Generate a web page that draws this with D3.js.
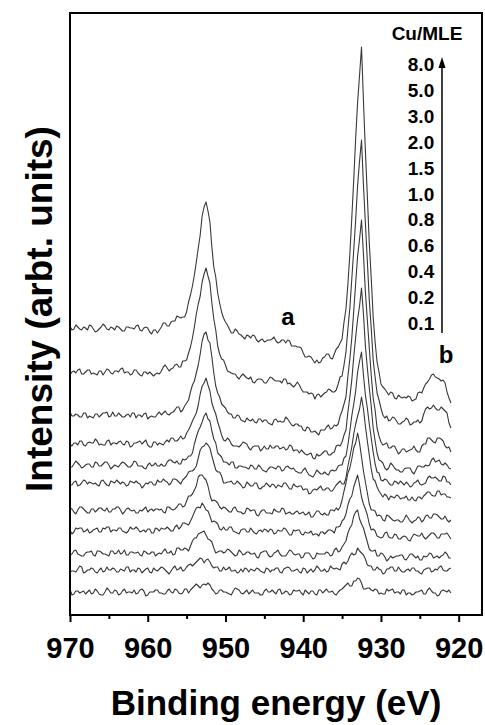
<!DOCTYPE html>
<html>
<head>
<meta charset="utf-8">
<script src="https://cdn.jsdelivr.net/npm/d3@7"></script>
<style>
  html, body { margin: 0; padding: 0; background: #fff; }
  svg { display: block; }
  text { font-family: "Liberation Sans", Arial, Helvetica, sans-serif; font-weight: bold; fill: #000; }
</style>
</head>
<body>
<svg id="chart" width="485" height="725"></svg>
<script>
// Cu 2p XPS spectra for increasing Cu coverage (monolayer equivalents), stacked bottom (0.1) to top (8.0).
const coverages = ["8.0", "5.0", "3.0", "2.0", "1.5", "1.0", "0.8", "0.6", "0.4", "0.2", "0.1"];
// Vertical stacking offset of each spectrum (arb. units)
const offsets = [287, 243, 200, 172, 150, 132, 105, 85, 62, 45, 23];
// Spectra are recorded from 970 eV downwards in 0.25 eV steps
const eStart = 970, eStep = 0.25;

const c80 = [2,-2,-1,3,1,-1,-2,1,0,-2,3,2,-1,-4,-3,-1,1,4,2,-1,
  -2,1,0,-2,2,1,-1,-3,-3,1,1,0,0,-1,2,3,-2,-3,0,1,
  0,-4,-6,-2,-2,-5,-2,1,5,5,2,2,6,7,7,12,11,10,11,11,
  16,26,33,42,53,66,80,93,112,121,126,117,106,81,61,51,35,25,16,10,
  6,3,-1,-5,-5,-1,-3,-6,-7,-9,-11,-7,-8,-10,-7,-8,-12,-14,-12,-11,
  -14,-13,-12,-12,-11,-9,-13,-15,-14,-12,-12,-15,-12,-13,-18,-18,-18,-19,-19,-20,
  -25,-29,-29,-28,-29,-32,-35,-32,-35,-34,-30,-29,-26,-26,-30,-31,-26,-21,-19,-15,
  -11,6,19,44,74,110,148,190,226,253,281,227,177,132,85,50,11,-14,-34,-44,
  -56,-59,-61,-64,-67,-64,-65,-70,-71,-67,-69,-70,-69,-70,-68,-69,-73,-72,-71,-65,
  -64,-65,-60,-56,-54,-51,-47,-46,-49,-50,-51,-53,-52,-55,-64,-70,-75];
const c50 = [-3,0,1,-1,2,3,-2,-2,0,2,2,-2,-1,-2,-3,1,1,-3,0,3,
  2,-1,-2,1,1,0,3,4,-1,0,0,-3,-2,2,2,-1,-3,-4,0,0,
  -2,0,-2,-4,-2,-1,-2,1,5,7,4,1,3,4,7,8,5,5,11,11,
  12,19,25,34,45,58,68,76,90,98,104,96,89,69,53,42,26,18,13,12,
  7,1,0,-1,-2,-2,-5,-7,-4,-2,-4,-6,-7,-5,-10,-11,-8,-7,-7,-8,
  -11,-11,-8,-5,-6,-8,-9,-9,-9,-11,-7,-7,-12,-11,-13,-15,-13,-10,-13,-17,
  -20,-20,-20,-22,-21,-22,-27,-23,-22,-25,-23,-21,-20,-17,-18,-20,-20,-18,-12,-5,
  -4,7,20,43,64,93,122,152,187,211,232,187,149,111,72,44,12,-5,-21,-28,
  -36,-43,-46,-44,-49,-48,-45,-46,-49,-52,-52,-50,-49,-46,-48,-53,-52,-50,-50,-48,
  -51,-49,-42,-37,-35,-37,-36,-33,-36,-38,-38,-35,-37,-39,-41,-51,-56];
const c30 = [3,-1,-1,1,0,-2,-2,2,2,-3,-1,-2,-3,1,1,-2,0,2,2,3,
  -2,-1,3,-1,-1,2,0,-2,-2,0,1,-2,2,2,-3,0,0,-2,1,2,
  -4,-2,-1,-2,-2,1,3,0,2,4,1,0,2,3,5,8,8,3,5,9,
  12,15,23,30,34,42,50,61,74,81,83,75,72,58,42,29,22,18,11,9,
  7,3,1,1,-3,-3,0,-1,-5,-6,-7,-3,-5,-6,-4,-7,-8,-4,-4,-7,
  -5,-5,-8,-9,-10,-5,-4,-7,-6,-7,-7,-2,-4,-7,-10,-11,-9,-9,-11,-11,
  -15,-16,-12,-13,-17,-17,-16,-18,-20,-15,-15,-15,-12,-10,-14,-13,-10,-11,-9,-1,
  4,11,18,39,56,77,104,132,159,176,195,161,123,95,67,40,17,5,-13,-21,
  -27,-30,-29,-28,-33,-33,-31,-31,-35,-39,-37,-34,-34,-37,-36,-35,-34,-31,-35,-37,
  -37,-31,-29,-29,-23,-23,-25,-27,-28,-23,-23,-24,-26,-31,-33,-32,-37];
const c20 = [-1,-3,0,0,-2,2,2,-2,-3,0,1,0,0,4,2,-2,-1,-2,-2,2,
  3,-2,0,0,-1,1,2,-1,-2,2,1,-4,-3,0,0,1,2,-1,1,3,
  -2,-4,-4,1,1,-2,0,-1,-2,1,3,1,5,5,2,2,4,7,4,5,
  10,13,17,22,26,30,38,49,57,60,65,58,52,40,34,29,21,15,8,3,
  2,5,3,-1,-3,-3,-3,-4,-2,1,0,-1,-5,-7,-4,-3,-3,-3,-8,-6,
  -3,-6,-6,-2,-5,-5,-3,-3,-6,-5,-4,-7,-6,-2,-3,-8,-7,-7,-10,-7,
  -9,-11,-12,-11,-10,-15,-16,-11,-13,-12,-10,-8,-8,-12,-12,-10,-9,-3,-2,-3,
  1,8,13,31,46,63,86,106,124,137,155,129,97,75,55,37,15,2,-10,-17,
  -18,-20,-25,-27,-25,-20,-22,-25,-27,-27,-29,-29,-26,-25,-25,-25,-29,-31,-27,-23,
  -23,-24,-24,-22,-23,-22,-17,-15,-19,-18,-17,-21,-22,-20,-22,-25,-26];
const c15 = [-2,-2,1,4,2,0,-3,-2,0,1,1,-2,-2,3,2,-1,-1,1,3,3,
  0,-4,-2,0,-1,-2,1,3,2,0,-2,-2,0,4,3,-1,-1,-1,-3,-4,
  0,2,-1,0,2,-1,-1,1,-1,-1,3,5,5,3,2,4,1,1,6,5,
  6,9,9,12,21,28,34,38,43,49,52,46,44,34,26,22,12,10,8,3,
  3,2,0,3,3,-3,-3,-1,-1,-2,-2,-3,-4,0,-1,-4,-4,0,-2,-5,
  -6,-7,-4,-2,-2,-3,-4,-1,-2,-6,-5,-2,-1,-3,-4,-3,-6,-7,-8,-8,
  -5,-3,-7,-10,-11,-12,-9,-5,-7,-9,-9,-7,-9,-10,-6,-5,-6,-5,-1,0,
  0,7,9,20,34,49,61,74,93,104,113,90,70,57,41,27,13,1,-7,-8,
  -15,-16,-14,-15,-18,-20,-20,-16,-17,-19,-16,-18,-20,-17,-19,-22,-21,-18,-17,-15,
  -19,-20,-19,-18,-13,-11,-13,-13,-12,-14,-16,-16,-11,-12,-17,-17,-20];
const c10 = [-2,-2,1,2,-3,-2,0,3,2,-1,1,0,-1,0,-2,-3,2,3,0,-2,
  -3,2,1,0,3,1,-1,1,0,-3,-2,2,1,0,2,0,-1,-5,-3,0,
  -1,1,1,-2,-2,3,1,1,4,2,1,-2,0,4,4,3,1,-1,3,5,
  7,11,12,12,14,17,25,33,36,37,40,38,35,27,20,13,11,11,7,0,
  0,1,1,2,-1,-1,2,0,-2,-5,-4,1,-1,-3,-3,0,0,-5,-6,-4,
  -3,0,-2,-4,-1,-2,-5,-2,-3,-4,0,0,-3,-6,-6,-1,-3,-4,-3,-3,
  -7,-6,-6,-11,-10,-7,-6,-7,-5,-3,-7,-7,-5,-5,-8,-8,-5,-2,0,2,
  -1,-1,5,17,26,36,49,59,67,74,86,74,57,42,28,14,4,2,-4,-8,
  -11,-14,-11,-13,-17,-13,-14,-15,-12,-13,-16,-15,-15,-13,-17,-17,-14,-17,-18,-14,
  -14,-16,-13,-11,-9,-9,-12,-13,-13,-8,-8,-12,-11,-11,-14,-14,-15];
const c08 = [2,1,-2,-4,0,3,3,1,-1,-3,-3,1,1,-2,0,2,2,0,-1,2,
  -2,-2,1,1,3,3,0,-4,-2,1,2,0,-1,0,-3,-3,0,-1,1,3,
  -2,0,1,-1,1,1,0,1,-2,-3,3,3,1,0,1,3,6,6,3,4,
  9,14,14,16,20,24,33,35,35,32,30,24,15,9,10,9,7,3,1,3,
  2,0,-2,-2,2,3,-1,-2,-2,-4,-3,2,1,-1,0,0,-5,-6,-2,0,
  0,-3,-3,-3,-4,1,-1,-2,-2,2,1,-4,-3,-2,-4,-4,-2,-1,-4,-3,
  -2,-5,-4,-2,-7,-7,-4,-1,-1,-4,-5,-3,-5,-5,0,0,-1,2,0,3,
  10,19,27,37,42,51,62,67,77,67,53,39,28,17,6,0,0,-1,-6,-5,
  -6,-10,-11,-5,-6,-8,-10,-11,-10,-10,-12,-12,-9,-5,-8,-11,-13,-11,-10,-7,
  -8,-12,-10,-6,-5,-8,-8,-4,-4,-5,-7,-9,-9,-6,-10,-12,-10];
const c06 = [0,-4,-2,2,1,2,2,-2,-1,1,-3,-2,0,1,2,-2,-2,2,1,3,
  3,-2,0,0,-1,2,2,-1,-2,-3,-1,3,1,1,3,1,-2,-1,0,-2,
  1,1,-3,-3,2,1,-1,2,1,1,3,1,-1,-1,3,5,1,3,7,7,
  6,5,9,13,18,22,23,22,27,24,20,19,14,8,9,8,6,1,0,3,
  0,0,3,3,-1,-2,-3,-4,0,1,1,-2,-2,2,-1,-3,-4,-1,0,-2,
  1,0,-2,1,0,-4,-3,0,-1,-1,2,1,-2,-5,-5,0,-1,0,0,-4,
  -5,-2,-3,-3,-1,-5,-4,-4,-6,-2,-2,-4,-2,0,0,-1,-3,3,3,4,
  9,11,16,25,31,34,43,49,55,45,33,26,21,15,6,0,1,-1,-6,-7,
  -8,-7,-3,-2,-7,-8,-8,-4,-5,-9,-9,-7,-6,-7,-10,-11,-7,-4,-5,-6,
  -6,-3,-7,-9,-7,-5,-3,-3,-5,-8,-8,-4,-4,-4,-3,-6,-9];
const c04 = [-2,-1,2,3,-1,-2,-3,-3,0,1,1,2,-2,-3,2,2,1,-1,-1,-2,
  -3,2,2,-1,0,3,-1,0,3,-2,-2,1,1,0,0,1,-2,-3,2,1,
  -1,-1,1,1,-3,-1,0,-1,2,4,0,0,2,-2,-1,5,5,3,3,5,
  4,2,7,12,15,15,19,20,21,22,18,14,13,11,5,0,1,2,2,0,
  1,4,3,1,-1,-3,-2,3,1,-2,-1,1,1,-1,-1,0,-4,-5,0,1,
  2,2,-2,-4,-3,0,1,3,-1,-3,-3,-3,0,3,2,-1,-2,-1,-1,-5,
  -4,0,0,0,-3,-6,-5,0,-1,-1,-1,-1,1,0,-3,-2,3,5,1,2,
  6,9,12,20,25,28,37,41,43,34,29,25,18,11,4,2,2,3,-3,-3,
  0,-1,-4,-8,-6,-3,-5,-4,-3,-3,-2,-2,-6,-7,-4,-1,-1,-3,-5,-3,
  -7,-7,-3,-4,-3,0,-1,-5,-4,-3,-5,-3,-2,1,-1,-5,-5];
const c02 = [-2,-1,-1,-2,1,4,3,-3,-2,0,0,2,1,-2,-3,0,2,-2,-1,3,
  0,0,2,1,-2,-2,1,0,-1,3,3,-2,0,0,-2,2,1,-3,-1,1,
  2,-2,-3,2,0,-1,1,3,2,0,-2,-4,-1,2,4,0,1,3,-1,0,
  3,5,6,4,6,8,10,12,11,7,10,11,8,4,2,3,3,-1,-1,3,
  0,1,3,-1,-1,0,-3,-2,1,-2,2,1,-2,1,0,-1,2,1,-1,-2,
  -3,2,1,-2,0,0,2,2,-2,-3,1,2,3,2,-1,-1,0,1,-2,-3,
  2,1,-3,-1,1,-2,0,4,2,-1,-1,1,-2,-1,4,2,1,2,1,0,
  6,8,6,9,14,17,15,16,22,19,17,15,11,5,4,4,0,0,3,1,
  0,-4,-3,1,1,3,3,-1,-1,3,0,-2,-2,0,1,-1,2,2,-1,-1,
  -3,-4,0,1,2,2,-2,-1,1,0,3,4,0,-1,-1,1,2];
const c01 = [3,-3,-2,1,1,-1,0,1,-2,0,2,-2,-1,3,1,-2,-3,-3,0,4,
  2,-1,-1,2,1,-3,-2,1,3,-1,0,0,-1,2,-2,-1,2,3,1,-4,
  -3,0,0,0,2,2,-1,-1,-2,-2,1,3,0,-1,3,2,-1,-2,-1,3,
  3,-1,2,4,6,8,6,4,7,8,7,9,7,3,1,-2,-1,2,2,0,
  0,-1,-2,-3,1,4,3,2,-1,-2,0,2,-2,0,2,-1,-1,-1,-3,-3,
  1,3,0,0,2,0,-2,2,3,-2,-1,1,0,-3,-2,2,1,1,2,-1,
  -3,2,0,-2,1,1,-2,-3,2,2,-1,1,3,0,0,1,-2,-3,0,2,
  3,5,7,9,6,6,11,11,14,13,9,3,3,4,4,2,1,3,2,-2,
  -1,-2,-2,3,1,2,3,-1,0,0,-2,2,2,-3,-1,-1,-3,-2,0,0,
  1,2,-2,-2,2,4,1,-1,-1,-4,-3,1,2,1,0,2,-1];
const spectra = [c80, c50, c30, c20, c15, c10, c08, c06, c04, c02, c01];

const xTicks = [970, 960, 950, 940, 930, 920];
const xMinorTicks = [965, 955, 945, 935, 925];
const xDomain = [970, 917];
const yDomain = [0, 602];

const svg = d3.select("#chart");
const plot = { left: 70, top: 13, right: 482, bottom: 615 };

const x = d3.scaleLinear().domain(xDomain).range([plot.left, plot.right]);
const y = d3.scaleLinear().domain(yDomain).range([plot.bottom, plot.top]);

// spectra
const g = svg.append("g");
spectra.forEach((s, k) => {
  const line = d3.line()
    .x((d, i) => x(eStart - i * eStep))
    .y(d => y(offsets[k] + d));
  g.append("path")
    .attr("d", line(s))
    .attr("fill", "none")
    .attr("stroke", "#383838")
    .attr("stroke-width", 1.1)
    .attr("stroke-linejoin", "round");
});

// frame
svg.append("rect")
  .attr("x", plot.left).attr("y", plot.top)
  .attr("width", plot.right - plot.left).attr("height", plot.bottom - plot.top)
  .attr("fill", "none").attr("stroke", "#000").attr("stroke-width", 2);

// bottom axis: major and minor ticks
const axMajor = svg.append("g")
  .attr("transform", `translate(0,${plot.bottom})`)
  .call(d3.axisBottom(x).tickValues(xTicks).tickSize(7).tickPadding(15).tickFormat(d3.format("d")));
axMajor.select(".domain").remove();
axMajor.selectAll(".tick line").attr("stroke", "#000").attr("stroke-width", 2);
axMajor.selectAll(".tick text")
  .style("font-family", '"Liberation Sans", Arial, sans-serif')
  .style("font-weight", "bold").style("font-size", "29px").attr("fill", "#000");

const axMinor = svg.append("g")
  .attr("transform", `translate(0,${plot.bottom})`)
  .call(d3.axisBottom(x).tickValues(xMinorTicks).tickSize(4).tickFormat(""));
axMinor.select(".domain").remove();
axMinor.selectAll(".tick line").attr("stroke", "#000").attr("stroke-width", 2);

// axis titles
svg.append("text")
  .attr("x", 276).attr("y", 715)
  .attr("text-anchor", "middle")
  .style("font-size", "35px")
  .text("Binding energy (eV)");

svg.append("text")
  .attr("transform", "translate(52,309) rotate(-90)")
  .attr("text-anchor", "middle")
  .style("font-size", "37px")
  .text("Intensity (arbt. units)");

// coverage legend with arrow
svg.append("text")
  .attr("x", 427).attr("y", 40)
  .attr("text-anchor", "middle")
  .style("font-size", "19px")
  .text("Cu/MLE");

const legendY = d3.scalePoint().domain(coverages).range([71, 330]);
svg.append("g").selectAll("text")
  .data(coverages)
  .join("text")
  .attr("x", 421)
  .attr("y", d => legendY(d))
  .attr("text-anchor", "middle")
  .style("font-size", "19px")
  .text(d => d);

svg.append("line")
  .attr("x1", 442).attr("x2", 442)
  .attr("y1", 333).attr("y2", 66)
  .attr("stroke", "#000").attr("stroke-width", 1.5);
svg.append("path")
  .attr("d", "M442,57 L438.5,68 L445.5,68 Z")
  .attr("fill", "#000");

// peak annotations
svg.append("text")
  .attr("x", 288).attr("y", 325)
  .attr("text-anchor", "middle")
  .style("font-size", "24px")
  .text("a");
svg.append("text")
  .attr("x", 446).attr("y", 363)
  .attr("text-anchor", "middle")
  .style("font-size", "24px")
  .text("b");
</script>
</body>
</html>
